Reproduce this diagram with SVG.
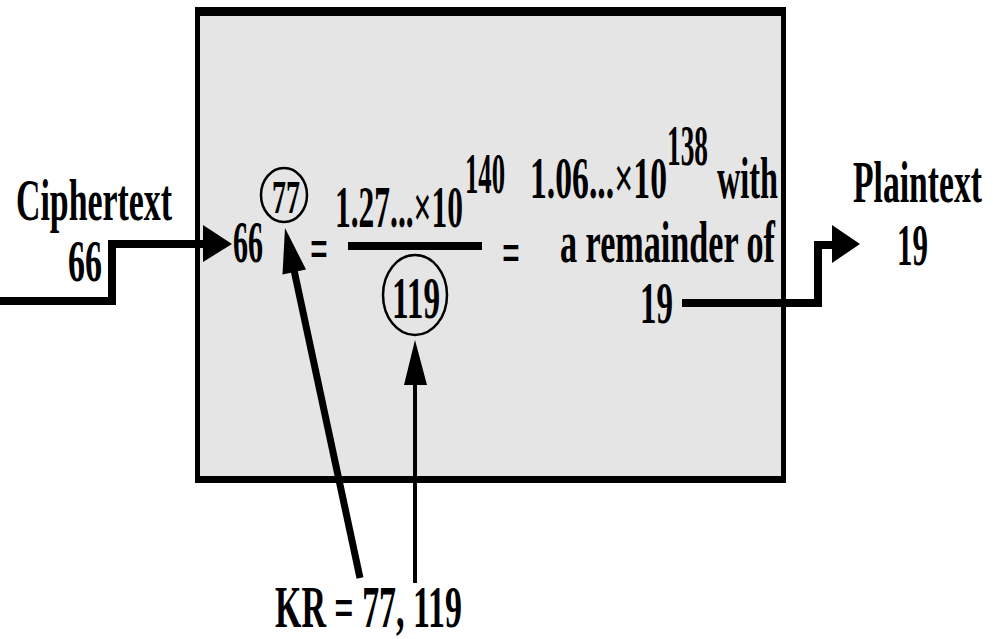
<svg xmlns="http://www.w3.org/2000/svg" width="993" height="639" viewBox="0 0 993 639">
<style>
  text { font-family: "Liberation Serif", "Times New Roman", serif; font-weight: bold; fill: #000; }
  .big { font-size: 60px; }
  .mid { font-size: 56px; }
  .sm { font-size: 46px; }
  .wire { fill: none; stroke: #000; stroke-width: 8; stroke-linejoin: miter; }
  .head { fill: #000; }
</style>
<rect width="993" height="639" fill="#ffffff"/>
<g id="box">
  <rect x="195" y="7" width="591" height="476" fill="#e5e5e5"/>
  <rect x="195" y="7" width="591" height="9" fill="#000"/>
  <rect x="195" y="476" width="591" height="7" fill="#000"/>
  <rect x="195" y="7" width="5" height="476" fill="#000"/>
  <rect x="781" y="7" width="5" height="476" fill="#000"/>
</g>
<g id="connectors">
  <polyline class="wire" points="0,301 112,301 112,244 205,244"/>
  <polygon class="head" points="203,225 232,244 203,262"/>
  <polyline class="wire" points="682,303 818,303 818,245 834,245"/>
  <polygon class="head" points="832,225 860,244 832,263"/>
  <line x1="360" y1="578" x2="294" y2="270" stroke="#000" stroke-width="7"/>
  <polygon class="head" points="285,228 306,269.5 282.5,274.5"/>
  <line x1="415" y1="583" x2="415" y2="383" stroke="#000" stroke-width="4"/>
  <polygon class="head" points="415,340 427,385 404,385"/>
  <rect x="348" y="242" width="134" height="8" fill="#000"/>
</g>
<g id="ciphertext">
  <text class="big" x="16" y="220" textLength="156" lengthAdjust="spacingAndGlyphs">Ciphertext</text>
  <text class="big" x="68" y="281" textLength="34" lengthAdjust="spacingAndGlyphs">66</text>
</g>
<g id="equation">
  <text class="big" x="233" y="262" textLength="30" lengthAdjust="spacingAndGlyphs">66</text>
  <ellipse cx="284" cy="195" rx="23" ry="27" fill="none" stroke="#000" stroke-width="2.5"/>
  <text class="sm" x="272" y="213" textLength="28" lengthAdjust="spacingAndGlyphs">77</text>
  <text class="big" x="310" y="268" textLength="18" lengthAdjust="spacingAndGlyphs">=</text>
  <text class="big" x="335" y="227" textLength="128" lengthAdjust="spacingAndGlyphs">1.27...×10</text>
  <text class="mid" x="465" y="193" textLength="40" lengthAdjust="spacingAndGlyphs">140</text>
  <ellipse cx="415" cy="295" rx="32" ry="40" fill="none" stroke="#000" stroke-width="2.5"/>
  <text class="big" x="392" y="318" textLength="48" lengthAdjust="spacingAndGlyphs">119</text>
  <text class="big" x="502" y="272" textLength="18" lengthAdjust="spacingAndGlyphs">=</text>
  <text class="big" x="530" y="198" textLength="137" lengthAdjust="spacingAndGlyphs">1.06...×10</text>
  <text class="mid" x="667" y="165" textLength="41" lengthAdjust="spacingAndGlyphs">138</text>
  <text class="big" x="717" y="198" textLength="61" lengthAdjust="spacingAndGlyphs">with</text>
  <text class="big" x="560" y="262" textLength="215" lengthAdjust="spacingAndGlyphs">a remainder of</text>
  <text class="big" x="640" y="323" textLength="33" lengthAdjust="spacingAndGlyphs">19</text>
</g>
<g id="plaintext">
  <text class="big" x="853" y="202" textLength="129" lengthAdjust="spacingAndGlyphs">Plaintext</text>
  <text class="big" x="897" y="265" textLength="31" lengthAdjust="spacingAndGlyphs">19</text>
</g>
<g id="key">
  <text class="big" x="275" y="627" textLength="187" lengthAdjust="spacingAndGlyphs">KR = 77, 119</text>
</g>
</svg>
